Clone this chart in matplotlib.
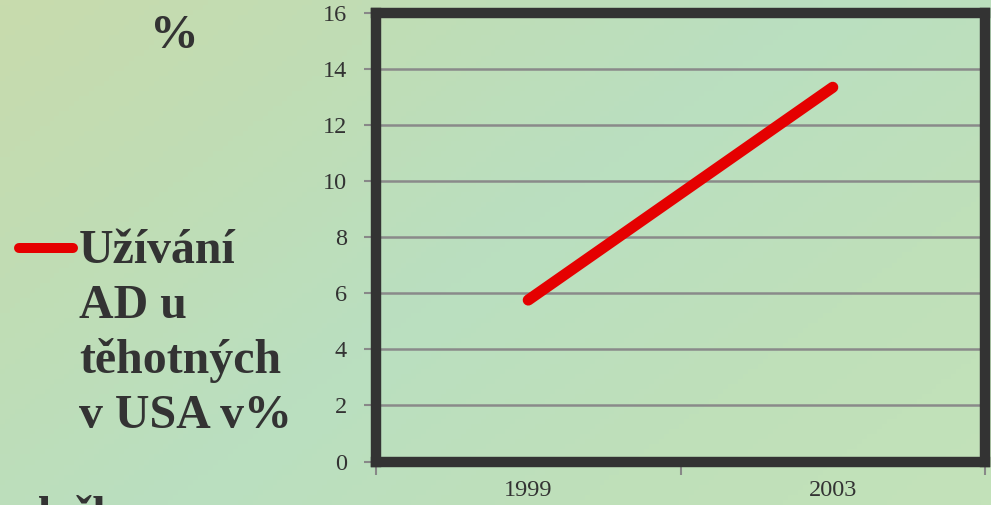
import matplotlib.pyplot as plt
import numpy as np
from matplotlib.colors import LinearSegmentedColormap

# data
years = ["1999", "2003"]
usage_pct = [5.76, 13.35]
y_ticks = [0, 2, 4, 6, 8, 10, 12, 14, 16]
legend_lines = ["Užívání", "AD u", "těhotných", "v USA v%"]

plt.rcParams["font.family"] = ["Liberation Serif", "DejaVu Serif"]

W, H = 991, 505
fig = plt.figure(figsize=(W / 100, H / 100), dpi=100)

# pozadí: jemný přechod (žlutozelená vlevo nahoře, světle zelená jinde)
bg = fig.add_axes([0, 0, 1, 1], zorder=-10)
cmap = LinearSegmentedColormap.from_list(
    "bg", ["#c8dbad", "#c0ddb5", "#badfc0", "#bfe0ba", "#c3e2b9"]
)
gx, gy = np.meshgrid(np.linspace(0, 1, 200), np.linspace(0, 1, 100))
bg.imshow(0.6 * gx + 0.4 * gy, cmap=cmap, aspect="auto", extent=[0, 1, 0, 1])
bg.axis("off")

ax = fig.add_axes([376 / W, (H - 461.5) / H, 609 / W, 448.5 / H])
ax.set_facecolor("none")
x = np.arange(len(years))
ax.plot(x, usage_pct, color="#e50000", linewidth=8, solid_capstyle="round", zorder=3)

ax.set_xlim(-0.5, len(years) - 0.5)
ax.set_ylim(0, 16)
ax.set_yticks(y_ticks)
ax.set_yticklabels([str(t) for t in y_ticks])
ax.set_xticks(x)
ax.set_xticklabels(years)
ax.set_xticks([-0.5, 0.5, 1.5], minor=True)
ax.tick_params(axis="x", which="major", length=0, pad=13, labelsize=17.5, labelcolor="#333333")
ax.tick_params(axis="x", which="minor", length=9, width=1.5, color="#888888", direction="out")
ax.tick_params(axis="y", length=9, width=1.5, color="#888888", pad=12,
               labelsize=17.5, labelcolor="#333333")
ax.grid(axis="y", color="#8a8a8a", linewidth=1.8)
ax.set_axisbelow(True)
for s in ax.spines.values():
    s.set_color("#333333")
    s.set_linewidth(7.5)

# popisky vlevo
fig.text(174 / W, 1 - 48 / H, "%", fontsize=35, fontweight="bold",
         color="#333333", ha="center", va="baseline")
fig.add_artist(plt.Line2D([19 / W, 73 / W], [1 - 248 / H, 1 - 248 / H],
                          color="#e50000", linewidth=7.2, solid_capstyle="round"))
for i, line in enumerate(legend_lines):
    fig.text(79 / W, 1 - (263 + 55 * i) / H, line, fontsize=34.5, fontweight="bold",
             color="#333333", ha="left", va="baseline")
fig.text(37 / W, 1 - 530 / H, "lečba", fontsize=34.5, fontweight="bold",
         color="#333333", ha="left", va="baseline")

fig.savefig("out.png", dpi=100)
